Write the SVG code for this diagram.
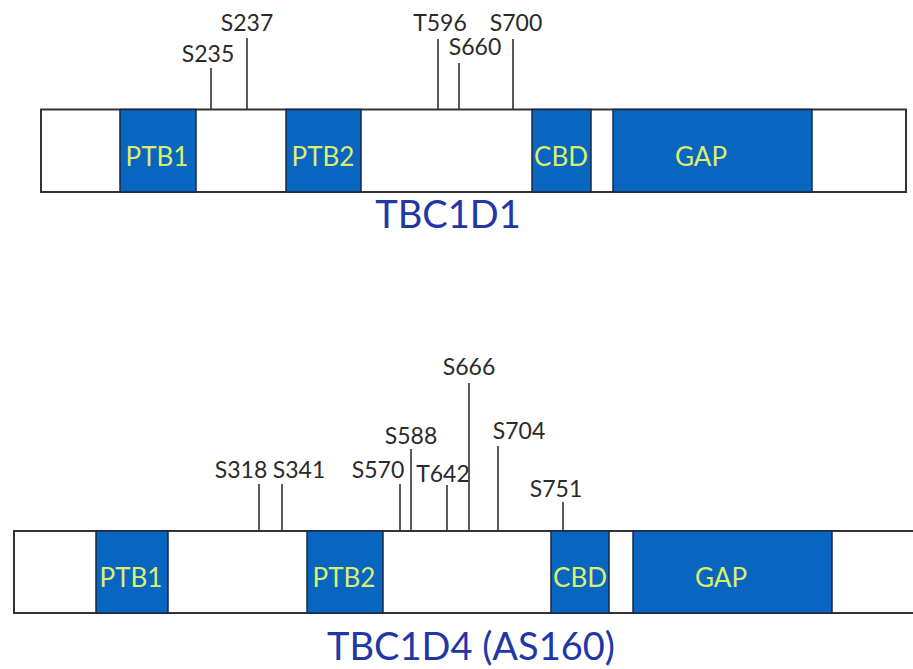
<svg xmlns="http://www.w3.org/2000/svg" width="913" height="669" viewBox="0 0 913 669">
<style>
.bar{fill:#ffffff;stroke:#333333;stroke-width:2}
.dom{fill:#0866c0;stroke:#1a2a40;stroke-width:1.5}
.dl{font-family:Lato,"Liberation Sans",sans-serif;font-size:26px;fill:#dcef6c;text-anchor:middle}
.sl{font-family:Lato,"Liberation Sans",sans-serif;font-size:23px;fill:#2a2a2a;text-anchor:middle}
.tt{font-family:Lato,"Liberation Sans",sans-serif;font-size:38px;fill:#2236a6;text-anchor:middle}
.tk{stroke:#333333;stroke-width:1.6}
</style>
<rect width="913" height="669" fill="#ffffff"/>

<g id="tbc1d1">
<rect class="bar" x="41" y="109.5" width="865" height="82.5"/>
<g id="d1-ptb1"><rect class="dom" x="120" y="109.5" width="76" height="82.5"/><text class="dl" x="157" y="166">PTB1</text></g>
<g id="d1-ptb2"><rect class="dom" x="286" y="109.5" width="75" height="82.5"/><text class="dl" x="323" y="166">PTB2</text></g>
<g id="d1-cbd"><rect class="dom" x="532" y="109.5" width="59" height="82.5"/><text class="dl" x="561" y="166">CBD</text></g>
<g id="d1-gap"><rect class="dom" x="613" y="109.5" width="199" height="82.5"/><text class="dl" x="701" y="166">GAP</text></g>
<text class="tt" x="448" y="228">TBC1D1</text>
</g>

<g id="d1-sites">
<g id="s235"><text class="sl" x="208" y="62">S235</text></g>
<g id="s237"><text class="sl" x="247" y="31">S237</text></g>
<g id="t596"><text class="sl" x="440" y="31">T596</text></g>
<g id="s660"><text class="sl" x="475" y="55">S660</text></g>
<g id="s700"><text class="sl" x="516" y="31">S700</text></g>
</g>

<g id="tbc1d4">
<path class="bar" d="M913 531 H14 V613 H913"/>
<g id="d4-ptb1"><rect class="dom" x="96" y="531" width="72" height="82"/><text class="dl" x="131" y="587">PTB1</text></g>
<g id="d4-ptb2"><rect class="dom" x="307" y="531" width="76" height="82"/><text class="dl" x="344" y="587">PTB2</text></g>
<g id="d4-cbd"><rect class="dom" x="551" y="531" width="58" height="82"/><text class="dl" x="580" y="587">CBD</text></g>
<g id="d4-gap"><rect class="dom" x="633" y="531" width="199" height="82"/><text class="dl" x="721" y="587">GAP</text></g>
<text class="tt" x="471" y="660">TBC1D4 (AS160)</text>
</g>

<g id="d4-sites">
<g id="s318"><text class="sl" x="241" y="478">S318</text></g>
<g id="s341"><text class="sl" x="299" y="478">S341</text></g>
<g id="s570"><text class="sl" x="378" y="478">S570</text></g>
<g id="s588"><text class="sl" x="411" y="444">S588</text></g>
<g id="t642"><text class="sl" x="443" y="482">T642</text></g>
<g id="s666"><text class="sl" x="469" y="375">S666</text></g>
<g id="s704"><text class="sl" x="519" y="439">S704</text></g>
<g id="s751"><text class="sl" x="556" y="497">S751</text></g>
</g>

<g id="connectors">
<line class="tk" x1="211" y1="68" x2="211" y2="109"/>
<line class="tk" x1="247" y1="38" x2="247" y2="109"/>
<line class="tk" x1="438" y1="39" x2="438" y2="109"/>
<line class="tk" x1="459" y1="63" x2="459" y2="109"/>
<line class="tk" x1="513" y1="39" x2="513" y2="109"/>
<line class="tk" x1="259" y1="484" x2="259" y2="531"/>
<line class="tk" x1="282" y1="484" x2="282" y2="531"/>
<line class="tk" x1="400" y1="484" x2="400" y2="531"/>
<line class="tk" x1="411" y1="449" x2="411" y2="531"/>
<line class="tk" x1="447" y1="485" x2="447" y2="531"/>
<line class="tk" x1="469" y1="383" x2="469" y2="531"/>
<line class="tk" x1="498" y1="446" x2="498" y2="531"/>
<line class="tk" x1="563" y1="502" x2="563" y2="531"/>
</g>
</svg>
